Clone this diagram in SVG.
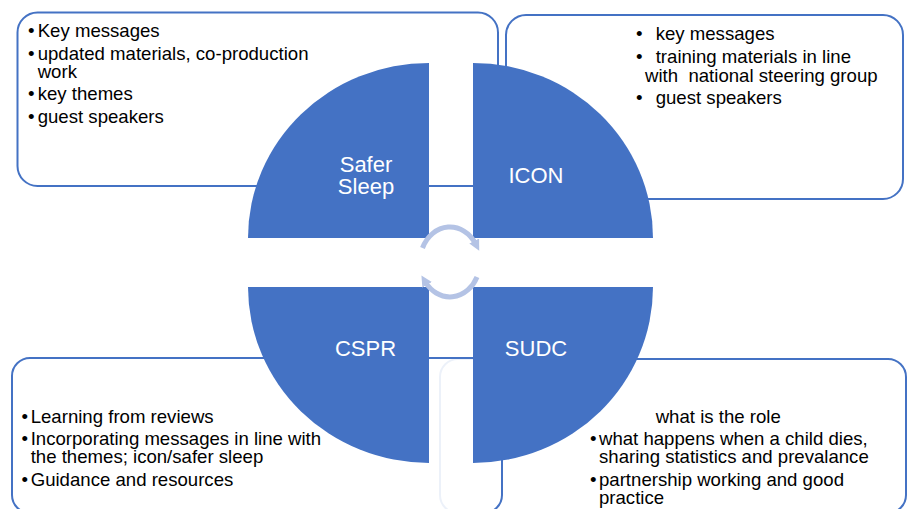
<svg xmlns="http://www.w3.org/2000/svg" width="912" height="509" viewBox="0 0 912 509">
  <style>
    .box { fill: #ffffff; stroke: #4472C4; stroke-width: 2; }
    .quad { fill: #4472C4; stroke: none; }
    .ql { font-family: "Liberation Sans", Arial, sans-serif; font-size: 22px; fill: #ffffff; text-anchor: middle; }
    .t { font-family: "Liberation Sans", Arial, sans-serif; font-size: 18.6px; fill: #000000; }
    .cyc { fill: none; stroke: #B4C3E5; stroke-width: 5; }
  </style>
  <defs>
    <marker id="ah" viewBox="0 0 10 10" refX="3" refY="5" markerWidth="11" markerHeight="11" markerUnits="userSpaceOnUse" orient="auto">
      <path d="M0,0 L10,5 L0,10 Z" fill="#B4C3E5"/>
    </marker>
  </defs>

  <rect width="912" height="509" fill="#ffffff"/>

  <!-- text boxes -->
  <g id="box-safer-sleep">
    <rect class="box" x="17.5" y="12.5" width="480.5" height="173.5" rx="20"/>
    <text class="t" x="28" y="37">•</text><text class="t" x="37.7" y="37">Key messages</text>
    <text class="t" x="28" y="60">•</text><text class="t" x="37.7" y="60">updated materials, co-production</text>
    <text class="t" x="37.7" y="77.7">work</text>
    <text class="t" x="28" y="100.3">•</text><text class="t" x="37.7" y="100.3">key themes</text>
    <text class="t" x="28" y="122.7">•</text><text class="t" x="37.7" y="122.7">guest speakers</text>
  </g>
  <g id="box-icon">
    <rect class="box" x="506" y="15" width="397" height="184" rx="20"/>
    <text class="t" x="636" y="40">•</text><text class="t" x="655.7" y="40">key messages</text>
    <text class="t" x="636" y="62.5">•</text><text class="t" x="655.7" y="62.5">training materials in line</text>
    <text class="t" x="645" y="81.7" xml:space="preserve">with  national steering group</text>
    <text class="t" x="636" y="103.5">•</text><text class="t" x="655.7" y="103.5">guest speakers</text>
  </g>
  <g id="box-sudc">
    <rect class="box" x="440" y="359" width="466" height="154" rx="18"/>
    <text class="t" x="655.7" y="422.7">what is the role</text>
    <text class="t" x="590" y="445">•</text><text class="t" x="599" y="445">what happens when a child dies,</text>
    <text class="t" x="599" y="463.3">sharing statistics and prevalance</text>
    <text class="t" x="590" y="486">•</text><text class="t" x="599" y="486">partnership working and good</text>
    <text class="t" x="599" y="504">practice</text>
  </g>
  <g id="box-cspr">
    <rect class="box" x="12" y="358" width="490" height="155" rx="18" style="fill-opacity:0.9"/>
    <text class="t" x="21.5" y="422.7">•</text><text class="t" x="30.7" y="422.7">Learning from reviews</text>
    <text class="t" x="21.5" y="445">•</text><text class="t" x="30.7" y="445">Incorporating messages in line with</text>
    <text class="t" x="30.7" y="463.3">the themes; icon/safer sleep</text>
    <text class="t" x="21.5" y="486">•</text><text class="t" x="30.7" y="486">Guidance and resources</text>
  </g>

  <!-- quadrants -->
  <g id="quad-safer-sleep">
    <path class="quad" d="M429,238 L248,238 A181,175 0 0 1 429,63 Z"/>
    <text class="ql" x="366" y="171.7">Safer</text>
    <text class="ql" x="366" y="194">Sleep</text>
  </g>
  <g id="quad-icon">
    <path class="quad" d="M473,238 L473,63 A180,175 0 0 1 653,238 Z"/>
    <text class="ql" x="536" y="183.3">ICON</text>
  </g>
  <g id="quad-cspr">
    <path class="quad" d="M429,287 L429,463 A181,176 0 0 1 248,287 Z"/>
    <text class="ql" x="365.5" y="355.7">CSPR</text>
  </g>
  <g id="quad-sudc">
    <path class="quad" d="M473,287 L653,287 A180,176 0 0 1 473,463 Z"/>
    <text class="ql" x="536" y="355.7">SUDC</text>
  </g>

  <!-- cycle arrows -->
  <g id="connectors">
    <path class="cyc" d="M422.5,248 A30,35 0 0 1 475.7,244" marker-end="url(#ah)"/>
    <path class="cyc" d="M477,277 A30,35 0 0 1 425.4,282" marker-end="url(#ah)"/>
  </g>
</svg>
